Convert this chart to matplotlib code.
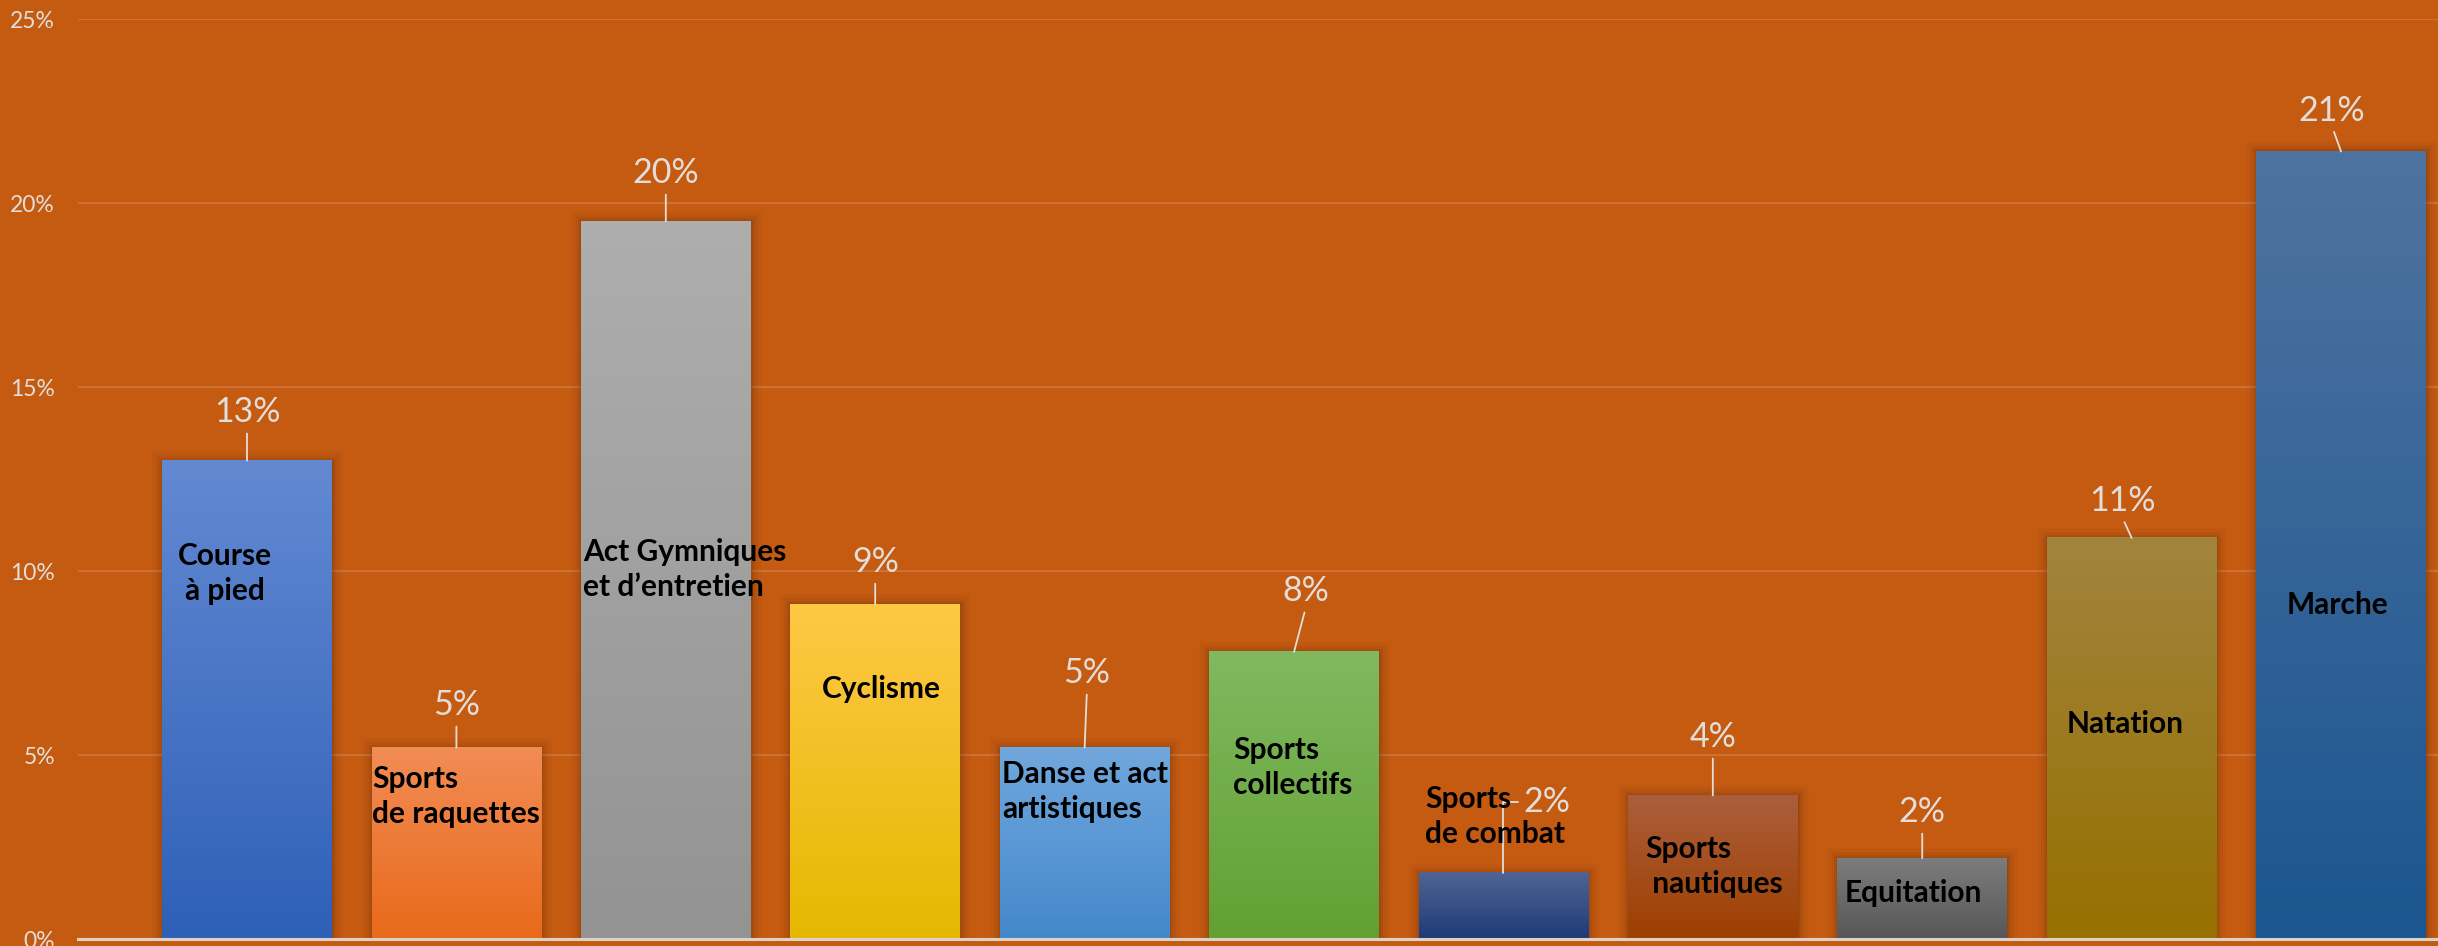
import numpy as np
import matplotlib
matplotlib.use('Agg')
import matplotlib.pyplot as plt
import matplotlib.patheffects as pe
from matplotlib.colors import to_rgb

plt.rcParams['font.family'] = ['Lato', 'DejaVu Sans']

# ---- données : part de chaque activité (%) ----
categories = [
    "Course\nà pied", "Sports\nde raquettes", "Act Gymniques\net d’entretien",
    "Cyclisme", "Danse et act\nartistiques", "Sports\ncollectifs",
    "Sports\nde combat", "Sports\n nautiques", "Equitation", "Natation", "Marche",
]
values = [13.0, 5.2, 19.5, 9.1, 5.2, 7.8, 1.8, 3.9, 2.2, 10.9, 21.4]
y_ticks = [0, 5, 10, 15, 20, 25]

# dégradé de chaque barre : couleur du haut -> couleur du bas
top_colors = ['#6389D2', '#F28C55', '#AEAEAE', '#FFC845', '#70A7DD', '#80B960',
              '#4F6494', '#AC5E3C', '#7C7C7C', '#A2843E', '#4F73A0']
bottom_colors = ['#2E60B8', '#E96A1A', '#939393', '#E5B800', '#4488CC', '#62A032',
                 '#1E3B78', '#9E3F00', '#575757', '#967000', '#1B5690']

# placement des étiquettes de valeur (décalage en points depuis le haut de la barre)
value_offsets = [(0, 35.0), (0, 30.7), (0, 34.8), (0, 30.2), (1.7, 53.7), (8.6, 43.9),
                 (31.5, 51.1), (0, 42.1), (0, 33.1), (-6.9, 26.6), (-6.5, 29.5)]
# placement des noms d'activité (décalage en x depuis le centre, y en %)
name_pos = [(-0.105, 9.93), (-0.403, 3.87), (-0.395, 10.04), (0.028, 6.79),
            (-0.394, 4.01), (-0.291, 4.66), (-0.374, 3.33), (-0.324, 1.97),
            (-0.369, 1.25), (-0.032, 5.84), (-0.016, 9.08)]
name_align = ['center', 'left', 'left', 'center', 'left', 'left', 'left', 'left',
              'left', 'center', 'center']

BG = '#C55A11'
LIGHT = '#E4DEDA'

W, H = 2438, 946
fig = plt.figure(figsize=(W / 100, H / 100), dpi=100, facecolor=BG)
ax = fig.add_axes([78 / W, 7 / H, 1 - 78 / W, 920 / H], facecolor=BG)

x = np.arange(len(values))
shadow = [pe.Stroke(linewidth=14, foreground='black', alpha=0.03),
          pe.Stroke(linewidth=9, foreground='black', alpha=0.04),
          pe.Stroke(linewidth=5, foreground='black', alpha=0.06),
          pe.Stroke(linewidth=2, foreground='black', alpha=0.07),
          pe.Normal()]
bars = ax.bar(x, values, width=0.81, color=bottom_colors, linewidth=0, zorder=2)

# remplissage en dégradé vertical par-dessus chaque barre
t = np.linspace(0, 1, 256)[:, None]
for bar, c_top, c_bot in zip(bars, top_colors, bottom_colors):
    bar.set_path_effects(shadow)
    a, b = np.array(to_rgb(c_top)), np.array(to_rgb(c_bot))
    img = (a + (b - a) * t)[:, None, :].repeat(2, axis=1)
    x0, w, h = bar.get_x(), bar.get_width(), bar.get_height()
    ax.imshow(img, extent=(x0, x0 + w, 0, h), origin='upper', aspect='auto',
              interpolation='bilinear', zorder=3)

# étiquettes de valeur avec traits de rappel
for i, v in enumerate(values):
    dx, dy = value_offsets[i]
    if i == 6:
        arrow = dict(arrowstyle='-', color=LIGHT, lw=1.3, shrinkA=2, shrinkB=0,
                     relpos=(0, 0.5), connectionstyle='angle,angleA=0,angleB=90,rad=0')
    else:
        arrow = dict(arrowstyle='-', color=LIGHT, lw=1.3, shrinkA=2, shrinkB=0,
                     relpos=(0.5, 0))
    ax.annotate(f"{v:.0f}%", xy=(i, v), xytext=(dx, dy), textcoords='offset points',
                ha='center', va='center', fontsize=24.5, color=LIGHT,
                arrowprops=arrow, zorder=5)

# noms des activités
for i, name in enumerate(categories):
    ox, oy = name_pos[i]
    ax.text(i + ox, oy, name, ha=name_align[i], va='center',
            multialignment=name_align[i], fontsize=21.5, fontweight='bold',
            color='black', linespacing=1.3, zorder=5)

ax.set_xlim(-0.807, 10.463)
ax.set_ylim(0, 25)
ax.set_xticks([])
ax.set_yticks(y_ticks)
ax.set_yticklabels([f"{t}%" for t in y_ticks])
ax.tick_params(axis='y', length=0, pad=16.5, labelsize=16.5, labelcolor=LIGHT)
ax.yaxis.grid(True, color='white', alpha=0.15, lw=1.5)
ax.set_axisbelow(True)
for s in ax.spines.values():
    s.set_visible(False)
ax.axhline(0, color='#DCD2CC', lw=2.2, zorder=4, clip_on=False)

fig.savefig('out.png', dpi=100, facecolor=BG)
